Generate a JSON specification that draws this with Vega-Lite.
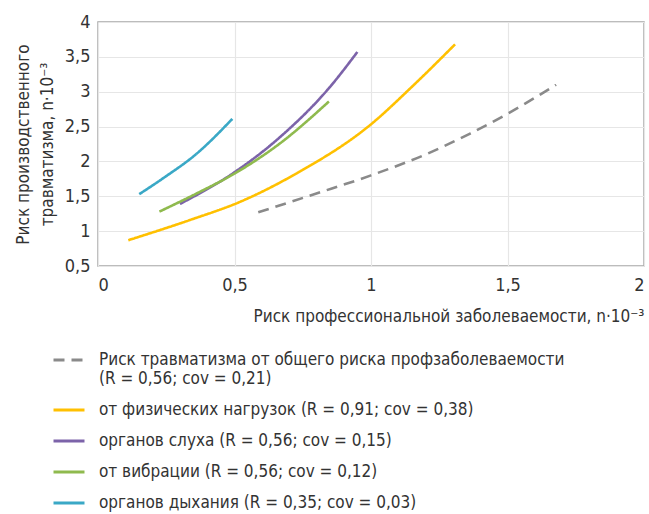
{
  "$schema": "https://vega.github.io/schema/vega-lite/v6.json",
  "width": 546,
  "height": 244,
  "autosize": "none",
  "padding": {"left": 98, "top": 22, "right": 5, "bottom": 248},
  "background": "white",
  "config": {
    "font": "DejaVu Sans Condensed",
    "view": {"stroke": "#a6a6a6", "strokeWidth": 1.5},
    "axis": {
      "labelFont": "DejaVu Sans Condensed",
      "titleFont": "DejaVu Sans Condensed",
      "labelColor": "#333333",
      "titleColor": "#333333",
      "titleFontWeight": "normal",
      "gridColor": "#e6e6e6",
      "gridWidth": 1.2,
      "ticks": false,
      "domain": false
    },
    "legend": {
      "labelFont": "DejaVu Sans Condensed",
      "labelColor": "#333333"
    }
  },
  "data": {
    "values": [
      {"s": "g", "x": 0.587, "y": 1.27},
      {"s": "g", "x": 0.8, "y": 1.54},
      {"s": "g", "x": 1.0, "y": 1.8},
      {"s": "g", "x": 1.2, "y": 2.1},
      {"s": "g", "x": 1.363, "y": 2.4},
      {"s": "g", "x": 1.503, "y": 2.69},
      {"s": "g", "x": 1.678, "y": 3.1},
      {"s": "o", "x": 0.111, "y": 0.87},
      {"s": "o", "x": 0.337, "y": 1.16},
      {"s": "o", "x": 0.52, "y": 1.42},
      {"s": "o", "x": 0.728, "y": 1.83},
      {"s": "o", "x": 0.996, "y": 2.52},
      {"s": "o", "x": 1.155, "y": 3.09},
      {"s": "o", "x": 1.308, "y": 3.68},
      {"s": "p", "x": 0.3, "y": 1.39},
      {"s": "p", "x": 0.502, "y": 1.85},
      {"s": "p", "x": 0.667, "y": 2.35},
      {"s": "p", "x": 0.85, "y": 3.07},
      {"s": "p", "x": 0.95, "y": 3.57},
      {"s": "v", "x": 0.225, "y": 1.28},
      {"s": "v", "x": 0.361, "y": 1.54},
      {"s": "v", "x": 0.502, "y": 1.83},
      {"s": "v", "x": 0.667, "y": 2.26},
      {"s": "v", "x": 0.846, "y": 2.86},
      {"s": "d", "x": 0.151, "y": 1.53},
      {"s": "d", "x": 0.239, "y": 1.76},
      {"s": "d", "x": 0.361, "y": 2.11},
      {"s": "d", "x": 0.492, "y": 2.61}
    ]
  },
  "mark": {"type": "line", "interpolate": "monotone", "strokeWidth": 2.6},
  "encoding": {
    "x": {
      "field": "x",
      "type": "quantitative",
      "scale": {"domain": [0, 2], "nice": false},
      "axis": {
        "values": [0, 0.5, 1, 1.5, 2],
        "format": ".1~f",
        "labelExpr": "replace(datum.label, '.', ',')",
        "labelFontSize": 18,
        "labelPadding": 10,
        "title": "Риск профессиональной заболеваемости, n·10⁻³",
        "titleFontSize": 17,
        "titleAnchor": "end",
        "titlePadding": 14
      }
    },
    "y": {
      "field": "y",
      "type": "quantitative",
      "scale": {"domain": [0.5, 4], "nice": false, "zero": false},
      "axis": {
        "values": [0.5, 1, 1.5, 2, 2.5, 3, 3.5, 4],
        "format": ".1~f",
        "labelExpr": "replace(datum.label, '.', ',')",
        "labelFontSize": 18,
        "labelPadding": 8,
        "title": ["Риск производственного", "травматизма, n·10⁻³"],
        "titleFontSize": 17,
        "titlePadding": 8,
        "titleLineHeight": 24
      }
    },
    "color": {
      "field": "s",
      "type": "nominal",
      "scale": {
        "domain": ["g", "o", "p", "v", "d"],
        "range": ["#8a8a8a", "#ffc000", "#7c63a9", "#8fba4e", "#3aa8c6"]
      },
      "legend": {
        "orient": "none",
        "legendX": -46,
        "legendY": 321,
        "direction": "vertical",
        "title": null,
        "symbolType": "stroke",
        "symbolSize": 961,
        "symbolStrokeWidth": 3,
        "labelFontSize": 17,
        "labelOffset": 13,
        "rowPadding": 6,
        "labelLimit": 600,
        "labelExpr": "datum.value == 'g' ? ['Риск травматизма от общего риска профзаболеваемости', '(R = 0,56; cov = 0,21)'] : datum.value == 'o' ? 'от физических нагрузок (R = 0,91; cov = 0,38)' : datum.value == 'p' ? 'органов слуха (R = 0,56; cov = 0,15)' : datum.value == 'v' ? 'от вибрации (R = 0,56; cov = 0,12)' : 'органов дыхания (R = 0,35; cov = 0,03)'"
      }
    },
    "strokeDash": {
      "field": "s",
      "type": "nominal",
      "scale": {
        "domain": ["g", "o", "p", "v", "d"],
        "range": [[11, 7], [1, 0], [1, 0], [1, 0], [1, 0]]
      },
      "legend": null
    }
  }
}
